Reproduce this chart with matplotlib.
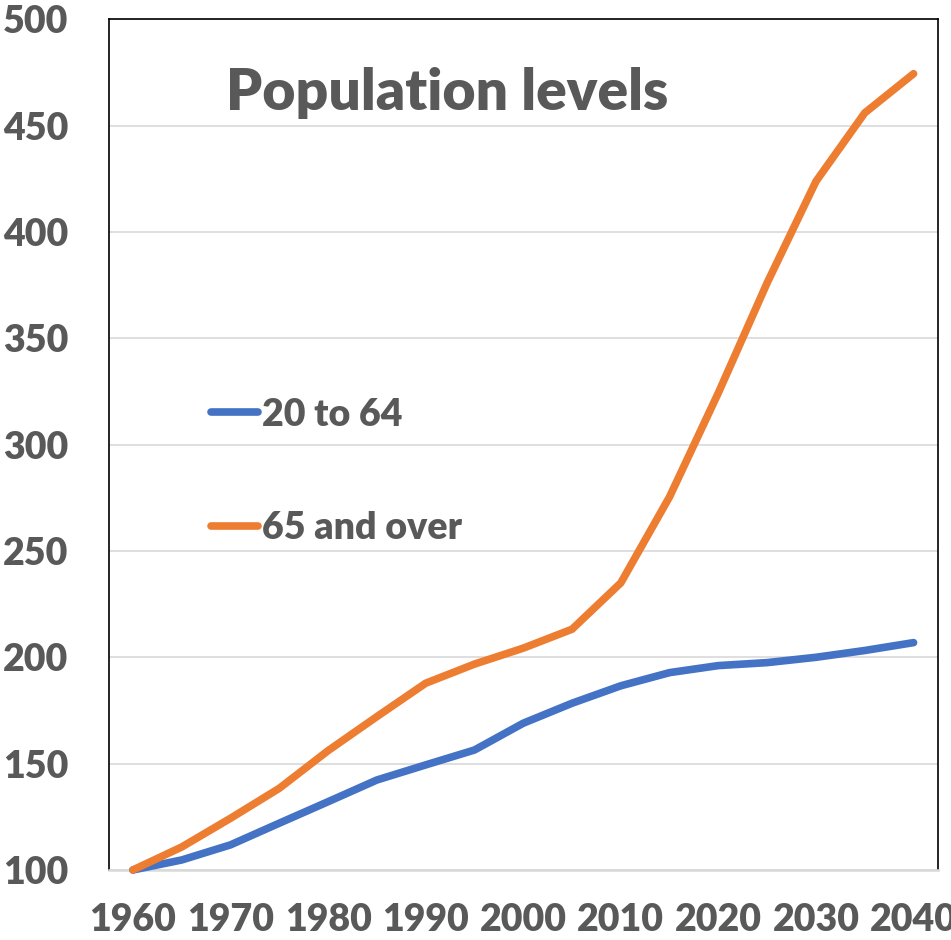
import matplotlib.pyplot as plt

years = [1960, 1965, 1970, 1975, 1980, 1985, 1990, 1995, 2000,
         2005, 2010, 2015, 2020, 2025, 2030, 2035, 2040]
working_age = [100, 104.7, 111.8, 122.0, 132.1, 142.3, 149.4, 156.4, 169.0,
               178.4, 186.6, 192.8, 196.1, 197.5, 200.0, 203.2, 206.9]
elderly = [100, 110.8, 124.3, 138.4, 156.1, 172.1, 187.8, 196.8, 204.3,
           213.2, 235.0, 275.5, 324.4, 376.1, 423.8, 456.0, 474.4]
series_labels = ["20 to 64", "65 and over"]
y_ticks = [100, 150, 200, 250, 300, 350, 400, 450, 500]

grey = "#595959"
wt = 'heavy'
plt.rcParams['font.family'] = ['Lato', 'DejaVu Sans']
plt.rcParams['font.weight'] = wt

fig = plt.figure(figsize=(9.51, 9.40), dpi=100)
ax = fig.add_axes([0.1141, 0.0745, 0.8722, 0.905])

xpos = list(range(len(years)))
ax.plot(xpos, working_age, color="#4472C4", lw=5.5, solid_capstyle='round',
        solid_joinstyle='round', clip_on=False, label=series_labels[0], zorder=3)
ax.plot(xpos, elderly, color="#ED7D31", lw=5.5, solid_capstyle='round',
        solid_joinstyle='round', clip_on=False, label=series_labels[1], zorder=3)

ax.set_xlim(-0.5, len(years) - 0.5)
ax.set_ylim(100, 500)
ax.set_yticks(y_ticks)
ax.set_xticks(xpos[::2])
ax.set_xticklabels([str(y) for y in years[::2]])

ax.tick_params(axis='both', length=0, labelsize=27, labelcolor=grey)
ax.tick_params(axis='y', pad=29)
ax.tick_params(axis='x', pad=24)
for lab in ax.get_xticklabels() + ax.get_yticklabels():
    lab.set_fontweight(wt)

ax.grid(axis='y', color="#D9D9D9", lw=1.2)
ax.set_axisbelow(True)
for side in ['left', 'top', 'right']:
    ax.spines[side].set_color('black')
    ax.spines[side].set_linewidth(1.2)
ax.spines['bottom'].set_color("#D9D9D9")
ax.spines['bottom'].set_linewidth(1.8)

ax.text(0.408, 0.913, "Population levels", transform=ax.transAxes,
        ha='center', va='center', fontsize=41, fontweight=wt, color=grey)

leg = ax.legend(loc='upper left', bbox_to_anchor=(0.083, 0.595), frameon=False,
                fontsize=27, handlelength=1.25, handletextpad=0.1,
                labelspacing=2.12)
for t in leg.get_texts():
    t.set_color(grey)
    t.set_fontweight(wt)

fig.savefig("out.png", dpi=100)
